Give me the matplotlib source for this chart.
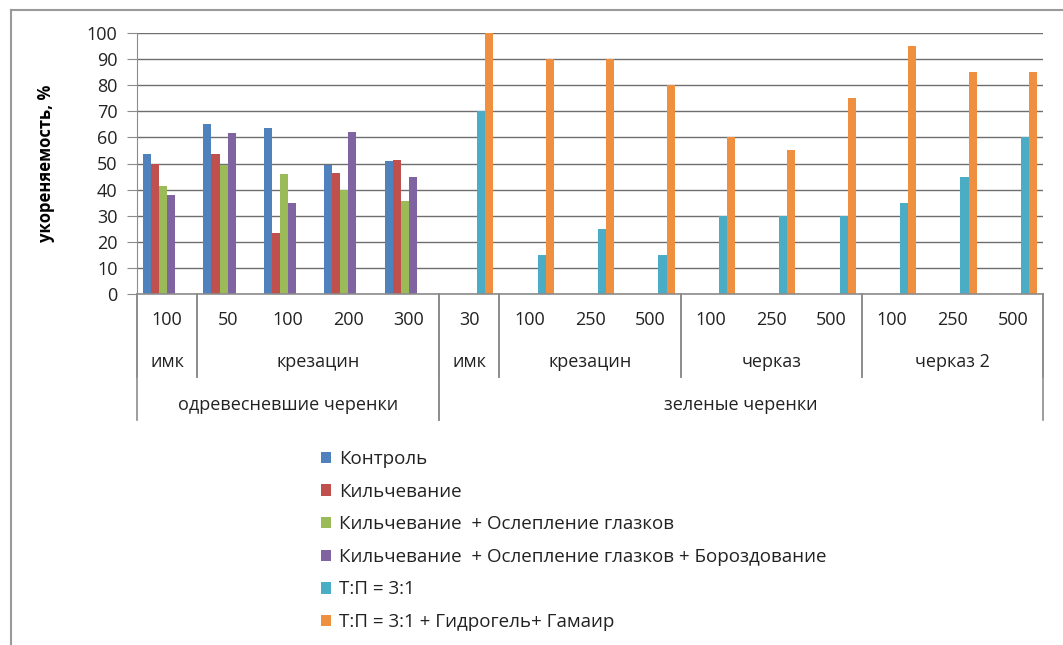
import numpy as np
import matplotlib
matplotlib.use("Agg")
import matplotlib.pyplot as plt
from matplotlib.lines import Line2D
from matplotlib.patches import Patch
import matplotlib.transforms as mtransforms

plt.rcParams['font.family'] = ['Open Sans', 'DejaVu Sans']

# Category hierarchy (leaf -> preparation -> cutting type)
doses = ["100", "50", "100", "200", "300", "30", "100", "250", "500",
         "100", "250", "500", "100", "250", "500"]
preparations = [("имк", 0, 0), ("крезацин", 1, 4), ("имк", 5, 5),
                ("крезацин", 6, 8), ("черказ", 9, 11), ("черказ 2", 12, 14)]
cutting_types = [("одревесневшие черенки", 0, 4), ("зеленые черенки", 5, 14)]

nan = np.nan
control = [53.5, 65, 63.5, 49.5, 51] + [nan] * 10
kilch = [50, 53.5, 23.5, 46.5, 51.5] + [nan] * 10
kilch_blind = [41.5, 49.5, 46, 40, 35.5] + [nan] * 10
kilch_blind_furrow = [38, 61.5, 35, 62, 45] + [nan] * 10
tp31 = [nan] * 5 + [70, 15, 25, 15, 30, 30, 30, 35, 45, 60]
tp31_gel = [nan] * 5 + [100, 90, 90, 80, 60, 55, 75, 95, 85, 85]

series = [
    ("Контроль", control, "#4F81BD"),
    ("Кильчевание", kilch, "#C0504D"),
    ("Кильчевание  + Ослепление глазков", kilch_blind, "#9BBB59"),
    ("Кильчевание  + Ослепление глазков + Бороздование", kilch_blind_furrow, "#8064A2"),
    ("Т:П = 3:1", tp31, "#4BACC6"),
    ("Т:П = 3:1 + Гидрогель+ Гамаир", tp31_gel, "#EE9040"),
]

W, H = 1063, 645
fig = plt.figure(figsize=(W / 100, H / 100), dpi=100)
ax = fig.add_axes([137 / W, 1 - 294 / H, (1043 - 137) / W, (294 - 33) / H])

x = np.arange(len(doses))
n = len(series)
bw = 0.8 / n
handles = []
for j, (name, vals, col) in enumerate(series):
    v = np.array(vals, dtype=float)
    pos = x - 0.4 + (j + 0.5) * bw
    m = ~np.isnan(v)
    ax.bar(pos[m], v[m], width=bw, color=col, linewidth=0, zorder=3)
    handles.append(Patch(facecolor=col, edgecolor='none', label=name))

ax.set_xlim(-0.5, len(doses) - 0.5)
ax.set_ylim(0, 100)
ax.set_yticks(np.arange(0, 101, 10))
ax.yaxis.grid(True, color="#6e6e6e", linewidth=1.0, zorder=0)
ax.set_axisbelow(True)
for s in ["top", "right", "bottom"]:
    ax.spines[s].set_visible(False)
ax.spines["left"].set_color("#8c8c8c")
ax.tick_params(axis="y", direction="out", length=7, color="#8c8c8c",
               labelsize=13, pad=7, labelcolor="#222222")
ax.set_xticks([])
ax.axhline(0, color="#8c8c8c", linewidth=1.2, zorder=4, clip_on=False)

ax.set_ylabel("укореняемость, %", fontsize=12, fontweight="bold")
ax.yaxis.set_label_coords(-(137 - 55) / (1043 - 137), 0.5)

# Multi-level category labels beneath the axis
trans = mtransforms.blended_transform_factory(ax.transData, fig.transFigure)
def fy(py):
    return 1 - py / H

for i, d in enumerate(doses):
    ax.text(i, fy(320), d, transform=trans, ha="center", va="center",
            fontsize=13, color="#222222")
for name, a, b in preparations:
    ax.text((a + b) / 2, fy(362), name, transform=trans, ha="center",
            va="center", fontsize=13, color="#222222")
for name, a, b in cutting_types:
    ax.text((a + b) / 2, fy(405), name, transform=trans, ha="center",
            va="center", fontsize=13, color="#222222")

sep_col = "#8c8c8c"
for name, a, b in preparations:
    for edge in (a - 0.5, b + 0.5):
        ax.add_line(Line2D([edge, edge], [fy(294), fy(377)], transform=trans,
                           color=sep_col, linewidth=1.2, clip_on=False))
for name, a, b in cutting_types:
    for edge in (a - 0.5, b + 0.5):
        ax.add_line(Line2D([edge, edge], [fy(294), fy(420)], transform=trans,
                           color=sep_col, linewidth=1.2, clip_on=False))

# Chart frame (top and left edges)
fig.add_artist(Line2D([11 / W, 1], [fy(10), fy(10)], transform=fig.transFigure,
                      color="#9a9a9a", linewidth=1.5))
fig.add_artist(Line2D([11 / W, 11 / W], [fy(10), 0], transform=fig.transFigure,
                      color="#9a9a9a", linewidth=1.5))

fig.legend(handles=handles, loc="upper left", bbox_to_anchor=(321 / W, fy(450)),
           frameon=False, fontsize=13.5, handlelength=0.55, handleheight=0.55,
           handletextpad=0.4, labelspacing=0.78, borderaxespad=0, borderpad=0,
           labelcolor="#222222")

fig.savefig("out.png", dpi=100, facecolor="white")
